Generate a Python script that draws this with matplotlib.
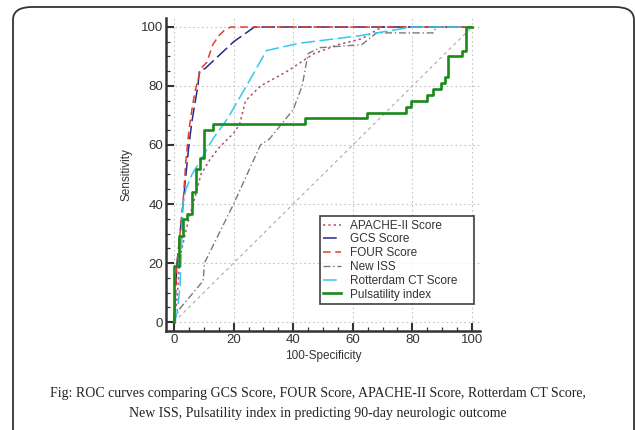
import matplotlib
matplotlib.use("Agg")
import numpy as np
from matplotlib import pyplot as plt
from matplotlib.patches import FancyBboxPatch

# ROC curve points (x = 100-Specificity, y = Sensitivity)
apache_x = [0, 1, 2, 4, 5, 7.5, 9, 12, 15, 20, 22, 24, 29, 38, 47, 55, 63, 68, 70, 100]
apache_y = [0, 8, 22, 31, 35, 44, 50, 55, 59, 64, 67, 75, 80, 85, 91, 94, 96, 99, 100, 100]

gcs_x = [0, 0.5, 1, 2, 3, 4, 5, 6, 7, 8, 8.5, 10.5, 20, 27, 100]
gcs_y = [0, 10, 20, 30, 40, 50, 60, 68, 74, 80, 85, 86, 95, 100, 100]

four_x = [0, 0.5, 1, 2, 3, 4, 5, 6, 7, 8, 9, 11, 13, 15, 17, 19, 100]
four_y = [0, 10, 20, 30, 40, 55, 65, 72, 78, 82, 86, 88, 94, 97, 99, 100, 100]

iss_x = [0, 1.5, 9.8, 10.2, 20, 24.5, 29, 32, 40, 43, 45, 49, 63, 68, 87, 88, 100]
iss_y = [0, 4, 14, 20, 40, 50, 60, 62, 72, 80, 91, 93, 94, 98, 98, 100, 100]

rott_x = [0, 1, 2, 2.5, 3, 4, 6, 9, 13, 18, 22, 26, 31, 42, 62, 71, 80, 100]
rott_y = [0, 3, 12, 25, 40, 45, 50, 55, 62, 69, 76, 83, 92, 94.5, 97, 98.5, 100, 100]

# pulsatility index: step curve, x where sensitivity jumps to the next level
pi_x = [0, 0, 1.5, 3, 4.5, 6, 7.3, 8.7, 10, 13, 44, 64.7, 78, 79.5, 85, 87, 89.5, 91, 92, 96.5, 98, 100]
pi_y = [0, 19, 29, 35, 36.5, 44, 52, 55.5, 65, 67, 69, 71, 73, 75, 77, 79, 81, 83, 90, 92, 100, 100]

labels = ["APACHE-II Score", "GCS Score", "FOUR Score", "New ISS",
          "Rotterdam CT Score", "Pulsatility index"]
caption = ("Fig: ROC curves comparing GCS Score, FOUR Score, APACHE-II Score, Rotterdam CT Score,\n"
           "New ISS, Pulsatility index in predicting 90-day neurologic outcome")

plt.rcParams['font.family'] = ['Liberation Sans', 'DejaVu Sans']

fig = plt.figure(figsize=(6.35, 4.3), dpi=100)
W, H = 635, 430

# rounded frame, right and bottom edges run off the picture
frame = FancyBboxPatch((13 / W, (H - 445) / H), 621 / W, 438 / H,
                       boxstyle="round,pad=0,rounding_size=0.03",
                       transform=fig.transFigure, fill=False,
                       edgecolor='#333333', linewidth=1.3)
fig.patches.append(frame)

ax = fig.add_axes([166 / W, (H - 331) / H, 314 / W, 313 / H])

ax.plot([0, 100], [0, 100], color='#aaaaaa', linestyle=(0, (3, 3)), linewidth=0.8)

ax.plot(apache_x, apache_y, color='#a85070', linestyle=(0, (1.5, 2)), linewidth=1.1, label=labels[0])
ax.plot(gcs_x, gcs_y, color='#2a2a8a', linestyle=(0, (9, 3)), linewidth=1.1, label=labels[1])
ax.plot(four_x, four_y, color='#e0402a', linestyle=(0, (5, 3)), linewidth=1.1, label=labels[2])
ax.plot(iss_x, iss_y, color='#7a7a7a', linestyle=(0, (5, 2, 1, 2)), linewidth=1.0, label=labels[3])
ax.plot(rott_x, rott_y, color='#33c8ee', linestyle=(0, (9, 3)), linewidth=1.1, label=labels[4])
ax.step(pi_x, pi_y, where='post', color='#1a8a1a', linewidth=1.9, label=labels[5])

ax.set_xlim(-2.7, 102.7)
ax.set_ylim(-3.05, 103.05)
ax.set_xticks(np.arange(0, 101, 20))
ax.set_yticks(np.arange(0, 101, 20))
ax.set_xticks(np.arange(0, 101, 5), minor=True)
ax.set_yticks(np.arange(0, 101, 5), minor=True)
ax.grid(True, which='major', color='#c4c4c4', linestyle=(0, (1.5, 2.5)), linewidth=0.8)

for side in ['top', 'right']:
    ax.spines[side].set_visible(False)
for side in ['left', 'bottom']:
    ax.spines[side].set_linewidth(1.8)
    ax.spines[side].set_color('#333333')

ax.tick_params(which='major', direction='in', length=6, width=1.5, color='#333333',
               labelsize=9.5, labelcolor='#333333')
ax.tick_params(axis='y', which='major', pad=2)
ax.tick_params(axis='x', which='major', pad=2)
ax.tick_params(which='minor', direction='in', length=3, width=0.9, color='#333333')

ax.set_xlabel("100-Specificity", fontsize=8.5, color='#333333', labelpad=3)
ax.set_ylabel("Sensitivity", fontsize=8.5, color='#333333', labelpad=6)

leg = ax.legend(loc='lower left', bbox_to_anchor=(0.49, 0.086, 0.49, 0.3), mode='expand',
                fontsize=8.5, frameon=True, fancybox=False, edgecolor='#222222',
                handlelength=1.5, labelspacing=0.15, borderpad=0.3,
                handletextpad=0.75, borderaxespad=0)
leg._legend_box.align = 'left'
leg.get_frame().set_linewidth(1.3)
for t in leg.get_texts():
    t.set_color('#333333')

fig.text(0.5, (H - 404) / H, caption, ha='center', va='center', fontsize=10,
         family=['Liberation Serif', 'DejaVu Serif'], linespacing=1.7, color='#222222')

fig.savefig("out.png", dpi=100)
